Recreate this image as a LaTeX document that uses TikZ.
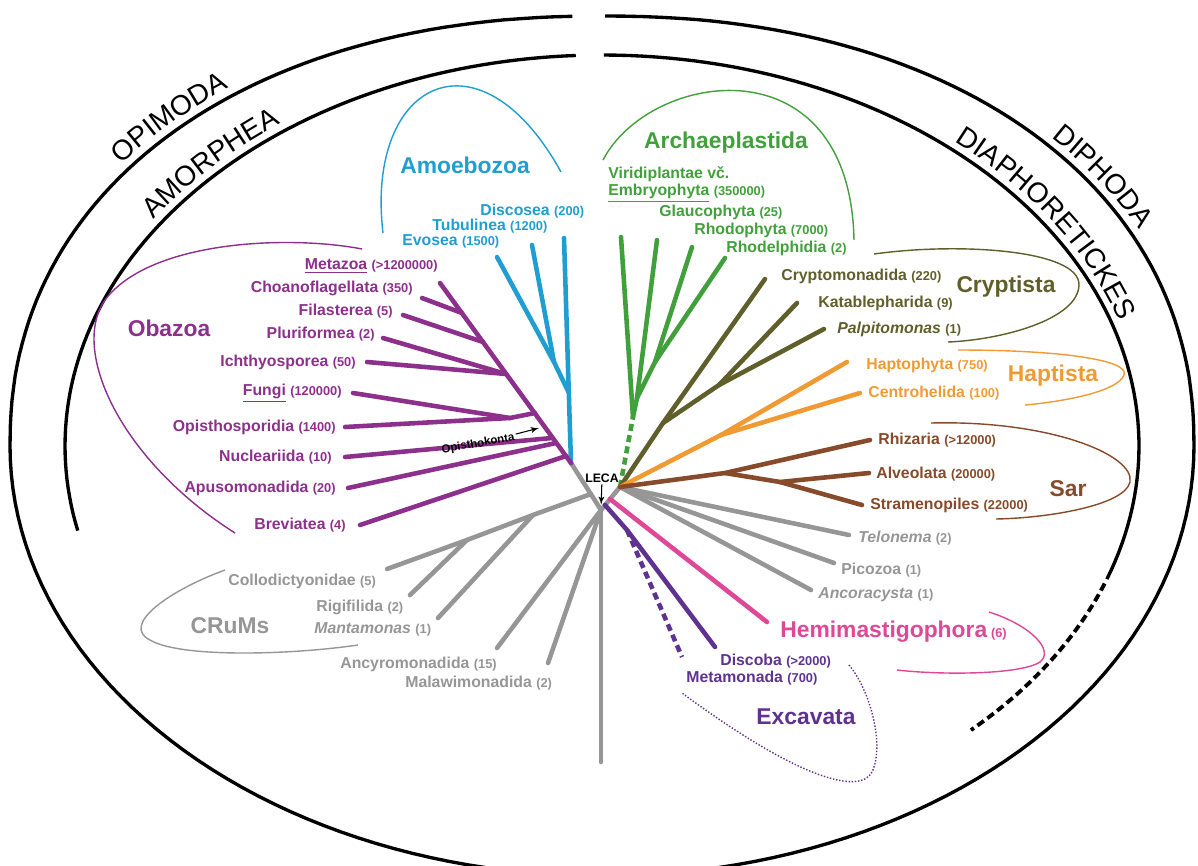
\documentclass[tikz,border=0pt]{standalone}
\usepackage{fontspec}
\setmainfont{Liberation Sans}
\usepackage{tikz}
\usetikzlibrary{arrows,positioning,decorations.text}

\definecolor{amoeba}{RGB}{32,158,208}
\definecolor{obazoa}{RGB}{140,48,140}
\definecolor{archae}{RGB}{66,160,60}
\definecolor{crypt}{RGB}{96,94,42}
\definecolor{hapt}{RGB}{240,154,52}
\definecolor{sar}{RGB}{135,74,42}
\definecolor{crums}{RGB}{150,150,150}
\definecolor{hemi}{RGB}{222,72,150}
\definecolor{excav}{RGB}{96,50,144}

\newcommand{\cnt}[1]{{\fontsize{7.3}{8}\selectfont(#1)}}
\newcommand{\arcfont}{\fontsize{16}{18}\selectfont}

\tikzstyle{brline} = [line width=2.6pt, line cap=round]
\tikzstyle{brdash} = [line width=2.6pt, line cap=butt, dash pattern=on 4pt off 2.5pt]
\tikzstyle{taxon} = [inner sep=0pt, font=\fontsize{9}{10}\selectfont\bfseries]
\tikzstyle{clade} = [inner sep=0pt, font=\fontsize{13}{15}\selectfont\bfseries]
\tikzstyle{hull} = [line width=0.8pt]
\tikzstyle{rim} = [line width=1.9pt]

\begin{document}
\begin{tikzpicture}[x=0.02cm, y=-0.02cm]
	\useasboundingbox (0,0) rectangle (1198,866);
	\clip (0,0) rectangle (1198,866);

	% outer and inner rims
	\draw [rim] plot[domain=92.2:178, samples=60] ({602-592*pow(-cos(\x),0.92)}, {446-430*pow(sin(\x),0.92)})
		-- plot[domain=180:272, samples=50] ({602+592*cos(\x)}, {446-430*sin(\x)});
	\draw [rim] plot[domain=89.8:2, samples=60] ({602+592*pow(cos(\x),0.92)}, {446-430*pow(sin(\x),0.92)})
		-- plot[domain=0:-92, samples=50] ({602+592*cos(\x)}, {446-430*sin(\x)});
	\draw [rim] plot[domain=92.8:192.5, samples=80] ({602+537*cos(\x)}, {446-391*sin(\x)});
	\draw [rim] plot[domain=89.8:-19.9, samples=80] ({602+537*cos(\x)}, {446-391*sin(\x)});
	\draw [rim, line width=2.2pt, dash pattern=on 4.5pt off 2.5pt] plot[domain=-20.6:-46.6, samples=30] ({602+537*cos(\x)}, {446-391*sin(\x)});

	% rim titles
	\path [decorate, decoration={text along path, text align=center, text={|\arcfont|OPIMODA}}]
		plot[domain=154:116, samples=40] ({602-600*pow(-cos(\x),0.92)}, {446-438*pow(sin(\x),0.92)});
	\path [decorate, decoration={text along path, text align=center, text={|\arcfont|AMORPHEA}}]
		plot[domain=150:122, samples=40] ({602+545*cos(\x)}, {446-399*sin(\x)});
	\path [decorate, decoration={text along path, text align=center, text={|\arcfont|DIPHODA}}]
		plot[domain=50:20, samples=40] ({602+600*pow(cos(\x),0.92)}, {446-438*pow(sin(\x),0.92)});
	\path [decorate, decoration={text along path, text align=center, text={|\arcfont|DIAPHORETICKES}}]
		plot[domain=58:8, samples=60] ({602+545*cos(\x)}, {446-399*sin(\x)});

	% LECA and the first splits
	\coordinate (root) at (601,510);
	\coordinate (amor) at (571,463);
	\coordinate (diaph) at (620,487);
	\coordinate (base) at (601,762);
	\coordinate (crfork) at (591,494);
	\coordinate (hemifork) at (610,499);
	\coordinate (excfork) at (605,505);

	% CRuMs and the other grey lineages
	\coordinate (cr1) at (533,515);
	\coordinate (cr2) at (467,540);
	\coordinate (collT) at (387,569);
	\coordinate (rigiT) at (410,595);
	\coordinate (mantT) at (438,618);
	\coordinate (ancyT) at (497,648);
	\coordinate (malaT) at (548,663);
	\coordinate (teloT) at (849,535);
	\coordinate (picoT) at (834,563);
	\coordinate (ancoT) at (811,590);

	\draw [brline, crums] (amor) -- (root) -- (diaph);
	\draw [brline, crums] (root) -- (base);
	\draw [brline, crums] (root) -- (ancyT);
	\draw [brline, crums] (root) -- (malaT);
	\draw [brline, crums] (crfork) -- (cr1) -- (cr2) -- (collT);
	\draw [brline, crums] (cr2) -- (rigiT);
	\draw [brline, crums] (cr1) -- (mantT);
	\draw [brline, crums] (diaph) -- (teloT);
	\draw [brline, crums] (diaph) -- (picoT);
	\draw [brline, crums] (diaph) -- (ancoT);

	\node [taxon, crums, anchor=west] (coll) at (228,581) {Collodictyonidae \cnt{5}};
	\node [taxon, crums, anchor=west] (rigi) at (316,607) {Rigifilida \cnt{2}};
	\node [taxon, crums, anchor=west] (mant) at (314,629) {\textit{Mantamonas} \cnt{1}};
	\node [taxon, crums, anchor=west] (ancy) at (340,664) {Ancyromonadida \cnt{15}};
	\node [taxon, crums, anchor=west] (mala) at (405,683) {Malawimonadida \cnt{2}};
	\node [clade, crums] (crum) at (230,626) {CRuMs};
	\draw [hull, crums] (225,570) .. controls (170,590) and (120,625) .. (150,640)
		.. controls (180,658) and (290,655) .. (358,645);

	\node [taxon, crums, anchor=west] (telo) at (858,538) {\textit{Telonema} \cnt{2}};
	\node [taxon, crums, anchor=west] (pico) at (841,570) {Picozoa \cnt{1}};
	\node [taxon, crums, anchor=west] (anco) at (818,595) {\textit{Ancoracysta} \cnt{1}};

	% LECA
	\node [inner sep=1pt, font=\fontsize{7}{8}\selectfont\bfseries] (leca) at (602,478) {LECA};
	\draw [-latex', line width=0.6pt, shorten >=3pt] (leca) -- (root);

	% Amoebozoa
	\coordinate (discT) at (564,238);
	\coordinate (am1) at (569,393);
	\coordinate (am2) at (554,362);
	\coordinate (tubuT) at (532,245);
	\coordinate (evosT) at (497,257);
	\draw [brline, amoeba] (amor) -- (discT);
	\draw [brline, amoeba] (am1) -- (am2) -- (evosT);
	\draw [brline, amoeba] (am2) -- (tubuT);
	\node [taxon, amoeba, anchor=west] (disc) at (480,211) {Discosea \cnt{200}};
	\node [taxon, amoeba, anchor=west] (tubu) at (432,226) {Tubulinea \cnt{1200}};
	\node [taxon, amoeba, anchor=west] (evos) at (402,241) {Evosea \cnt{1500}};
	\node [clade, amoeba] (amoe) at (465,165) {Amoebozoa};
	\draw [hull, amoeba] (383,233) .. controls (365,80) and (480,25) .. (561,172);

	% Obazoa
	\coordinate (metaT) at (440,283);
	\coordinate (ob1) at (566,456);
	\coordinate (ob2) at (556,443);
	\coordinate (ob3) at (552,438);
	\coordinate (ob4) at (535,413);
	\coordinate (ob5) at (510,418);
	\coordinate (ob6) at (506,374);
	\coordinate (ob7) at (483,342);
	\coordinate (ob8) at (462,313);
	\coordinate (choaT) at (422,298);
	\coordinate (filaT) at (403,315);
	\coordinate (pluriT) at (383,338);
	\coordinate (ichtT) at (367,362);
	\coordinate (fungT) at (353,393);
	\coordinate (opisT) at (345,427);
	\coordinate (nuclT) at (345,457);
	\coordinate (apusT) at (348,488);
	\coordinate (brevT) at (360,525);
	\draw [brline, obazoa] (amor) -- (metaT);
	\draw [brline, obazoa] (ob8) -- (choaT);
	\draw [brline, obazoa] (ob7) -- (filaT);
	\draw [brline, obazoa] (ob6) -- (pluriT);
	\draw [brline, obazoa] (ob6) -- (ichtT);
	\draw [brline, obazoa] (ob4) -- (ob5) -- (fungT);
	\draw [brline, obazoa] (ob5) -- (opisT);
	\draw [brline, obazoa] (ob3) -- (nuclT);
	\draw [brline, obazoa] (ob2) -- (apusT);
	\draw [brline, obazoa] (ob1) -- (brevT);

	\node [taxon, obazoa, anchor=east] (meta) at (438,266) {\underline{Metazoa} \cnt{>1200000}};
	\node [taxon, obazoa, anchor=east] (choa) at (413,288) {Choanoflagellata \cnt{350}};
	\node [taxon, obazoa, anchor=east] (fila) at (393,311) {Filasterea \cnt{5}};
	\node [taxon, obazoa, anchor=east] (pluri) at (375,334) {Pluriformea \cnt{2}};
	\node [taxon, obazoa, anchor=east] (icht) at (356,362) {Ichthyosporea \cnt{50}};
	\node [taxon, obazoa, anchor=east] (fung) at (342,393) {\underline{Fungi} \cnt{120000}};
	\node [taxon, obazoa, anchor=east] (opis) at (336,427) {Opisthosporidia \cnt{1400}};
	\node [taxon, obazoa, anchor=east] (nucl) at (332,457) {Nucleariida \cnt{10}};
	\node [taxon, obazoa, anchor=east] (apus) at (336,488) {Apusomonadida \cnt{20}};
	\node [taxon, obazoa, anchor=east] (brev) at (346,525) {Breviatea \cnt{4}};
	\node [clade, obazoa] (obaz) at (169,328) {Obazoa};
	\draw [hull, obazoa] (362,249) .. controls (290,235) and (150,240) .. (105,300)
		.. controls (70,350) and (120,460) .. (235,533);

	\node [inner sep=1pt, rotate=10, font=\fontsize{6.5}{7}\selectfont\bfseries] (opk) at (478,444) {Opisthokonta};
	\coordinate (opkT) at (539,428);
	\draw [-latex', line width=0.6pt] (opk) -- (opkT);

	% Archaeplastida
	\coordinate (ar0) at (633,417);
	\coordinate (ar1) at (637,398);
	\coordinate (ar2) at (655,362);
	\coordinate (viriT) at (621,237);
	\coordinate (glauT) at (657,240);
	\coordinate (rhodT) at (692,247);
	\coordinate (rdelT) at (725,258);
	\draw [brdash, archae] (diaph) -- (ar0);
	\draw [brline, archae] (ar0) -- (viriT);
	\draw [brline, archae] (ar0) -- (ar1) -- (glauT);
	\draw [brline, archae] (ar1) -- (ar2) -- (rhodT);
	\draw [brline, archae] (ar2) -- (rdelT);
	\node [taxon, archae, anchor=west] (viri) at (608,174) {Viridiplantae vč.};
	\node [taxon, archae, anchor=west] (embr) at (608,193) {\underline{Embryophyta} \cnt{350000}};
	\node [taxon, archae, anchor=west] (glau) at (659,212) {Glaucophyta \cnt{25}};
	\node [taxon, archae, anchor=west] (rhod) at (694,230) {Rhodophyta \cnt{7000}};
	\node [taxon, archae, anchor=west] (rdel) at (726,248) {Rhodelphidia \cnt{2}};
	\node [clade, archae] (arch) at (726,143) {Archaeplastida};
	\draw [hull, archae] (603,160) .. controls (650,70) and (850,40) .. (854,240);

	% Cryptista
	\coordinate (cp1) at (663,423);
	\coordinate (cp2) at (719,385);
	\coordinate (cmonT) at (765,279);
	\coordinate (kataT) at (797,303);
	\coordinate (palpT) at (824,329);
	\draw [brline, crypt] (diaph) -- (cp1) -- (cmonT);
	\draw [brline, crypt] (cp1) -- (cp2) -- (kataT);
	\draw [brline, crypt] (cp2) -- (palpT);
	\node [taxon, crypt, anchor=west] (cmon) at (781,276) {Cryptomonadida \cnt{220}};
	\node [taxon, crypt, anchor=west] (kata) at (818,303) {Katablepharida \cnt{9}};
	\node [taxon, crypt, anchor=west] (palp) at (837,329) {\textit{Palpitomonas} \cnt{1}};
	\node [clade, crypt] (cryp) at (1006,287) {Cryptista};
	\draw [hull, crypt] (874,254) .. controls (960,242) and (1080,250) .. (1079,285)
		.. controls (1078,320) and (1000,340) .. (948,342);

	% Haptista
	\coordinate (hp1) at (721,435);
	\coordinate (haptT) at (847,362);
	\coordinate (centT) at (860,393);
	\draw [brline, hapt] (diaph) -- (hp1) -- (haptT);
	\draw [brline, hapt] (hp1) -- (centT);
	\node [taxon, hapt, anchor=west] (hapo) at (866,365) {Haptophyta \cnt{750}};
	\node [taxon, hapt, anchor=west] (cent) at (868,393) {Centrohelida \cnt{100}};
	\node [clade, hapt] (hapi) at (1053,376) {Haptista};
	\draw [hull, hapt] (958,350) .. controls (1060,350) and (1130,360) .. (1124,375)
		.. controls (1118,392) and (1060,402) .. (1025,405);

	% Sar
	\coordinate (sa1) at (725,473);
	\coordinate (sa2) at (780,482);
	\coordinate (rhizT) at (870,440);
	\coordinate (alveT) at (869,473);
	\coordinate (stramT) at (862,505);
	\draw [brline, sar] (diaph) -- (sa1) -- (rhizT);
	\draw [brline, sar] (sa1) -- (sa2) -- (alveT);
	\draw [brline, sar] (sa2) -- (stramT);
	\node [taxon, sar, anchor=west] (rhiz) at (878,440) {Rhizaria \cnt{>12000}};
	\node [taxon, sar, anchor=west] (alve) at (876,474) {Alveolata \cnt{20000}};
	\node [taxon, sar, anchor=west] (stram) at (870,505) {Stramenopiles \cnt{22000}};
	\node [clade, sar] (sarl) at (1068,489) {Sar};
	\draw [hull, sar] (931,423) .. controls (1050,420) and (1135,455) .. (1130,482)
		.. controls (1125,505) and (1050,518) .. (996,519);

	% Hemimastigophora
	\coordinate (hemiT) at (767,622);
	\draw [brline, hemi] (hemifork) -- (hemiT);
	\node [clade, hemi, anchor=west] (hemm) at (780,632) {Hemimastigophora\,\cnt{6}};
	\draw [hull, hemi] (989,612) .. controls (1030,625) and (1055,650) .. (1040,662)
		.. controls (1020,675) and (940,675) .. (897,670);

	% Excavata
	\coordinate (ex1) at (627,530);
	\coordinate (dscbT) at (715,647);
	\coordinate (mtmnT) at (682,657);
	\draw [brline, excav] (excfork) -- (ex1) -- (dscbT);
	\draw [brdash, excav] (ex1) -- (mtmnT);
	\node [taxon, excav, anchor=west] (dscb) at (720,661) {Discoba \cnt{>2000}};
	\node [taxon, excav, anchor=west] (mtmn) at (686,678) {Metamonada \cnt{700}};
	\node [clade, excav] (exca) at (806,717) {Excavata};
	\draw [hull, excav, densely dotted] (849,665) .. controls (870,690) and (885,745) .. (872,772)
		.. controls (860,795) and (800,780) .. (682,693);
\end{tikzpicture}
\end{document}
